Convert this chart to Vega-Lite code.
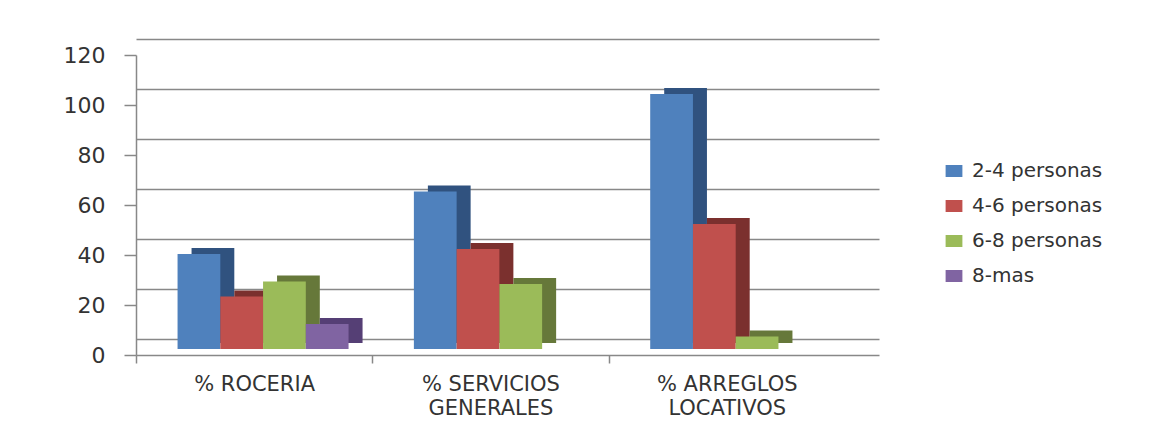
{
  "$schema": "https://vega.github.io/schema/vega-lite/v6.json",
  "width": 743,
  "height": 300,
  "padding": {"left": 47, "top": 28, "right": 5, "bottom": 5},
  "background": "white",
  "config": {"view": {"stroke": null}},
  "data": {"values": [
    {"categoria": "% ROCERIA", "grupo": "2-4 personas", "valor": 38},
    {"categoria": "% ROCERIA", "grupo": "4-6 personas", "valor": 21},
    {"categoria": "% ROCERIA", "grupo": "6-8 personas", "valor": 27},
    {"categoria": "% ROCERIA", "grupo": "8-mas", "valor": 10},
    {"categoria": "% SERVICIOS|GENERALES", "grupo": "2-4 personas", "valor": 63},
    {"categoria": "% SERVICIOS|GENERALES", "grupo": "4-6 personas", "valor": 40},
    {"categoria": "% SERVICIOS|GENERALES", "grupo": "6-8 personas", "valor": 26},
    {"categoria": "% SERVICIOS|GENERALES", "grupo": "8-mas", "valor": 0},
    {"categoria": "%  ARREGLOS|LOCATIVOS", "grupo": "2-4 personas", "valor": 102},
    {"categoria": "%  ARREGLOS|LOCATIVOS", "grupo": "4-6 personas", "valor": 50},
    {"categoria": "%  ARREGLOS|LOCATIVOS", "grupo": "6-8 personas", "valor": 5},
    {"categoria": "%  ARREGLOS|LOCATIVOS", "grupo": "8-mas", "valor": 0}
  ]},
  "encoding": {
    "x": {
      "field": "categoria", "type": "nominal", "sort": null,
      "scale": {"paddingInner": 0.276, "paddingOuter": 0.21, "align": 0.328},
      "axis": {
        "title": null, "orient": "bottom", "offset": 16, "labelAngle": 0,
        "labelExpr": "split(datum.label, '|')",
        "labelFont": "DejaVu Sans", "labelFontSize": 21, "labelColor": "#333333",
        "labelLineHeight": 24, "labelPadding": 10,
        "bandPosition": 0, "tickOffset": -32.6, "labelOffset": 32.6,
        "domainColor": "#888888", "domainWidth": 1.5,
        "tickColor": "#888888", "tickWidth": 1.5, "tickSize": 8
      }
    }
  },
  "layer": [
    {
      "mark": {"type": "bar", "yOffset": 4, "y2Offset": 4},
      "encoding": {
        "xOffset": {"field": "grupo", "type": "nominal",
                    "sort": ["2-4 personas", "4-6 personas", "6-8 personas", "8-mas"],
                    "scale": {"range": [23, 194]}},
        "y": {
          "field": "valor", "type": "quantitative",
          "scale": {"domain": [0, 120], "nice": false},
          "axis": {
            "orient": "left", "title": null, "grid": true, "labels": false, "ticks": false, "domain": false,
            "values": [0, 20, 40, 60, 80, 100, 120],
            "gridColor": "#888888", "gridWidth": 1.5
          }
        },
        "color": {
          "field": "grupo", "type": "nominal", "legend": null,
          "scale": {"domain": ["2-4 personas", "4-6 personas", "6-8 personas", "8-mas"],
                    "range": ["#30527f", "#7b302e", "#66783a", "#553f75"]}
        }
      }
    },
    {
      "mark": {"type": "bar", "yOffset": 10, "y2Offset": 10},
      "encoding": {
        "xOffset": {"field": "grupo", "type": "nominal",
                    "sort": ["2-4 personas", "4-6 personas", "6-8 personas", "8-mas"],
                    "scale": {"range": [9, 180]}},
        "y": {
          "field": "valor", "type": "quantitative",
          "scale": {"domain": [0, 120], "nice": false},
          "axis": {
            "orient": "left", "title": null, "grid": false,
            "values": [0, 20, 40, 60, 80, 100, 120],
            "translate": 16.5, "offset": 16,
            "labelFont": "DejaVu Sans", "labelFontSize": 22, "labelColor": "#333333", "labelPadding": 19,
            "domainColor": "#888888", "domainWidth": 1.5,
            "tickColor": "#888888", "tickWidth": 1.5, "tickSize": 12
          }
        },
        "color": {
          "field": "grupo", "type": "nominal",
          "scale": {"domain": ["2-4 personas", "4-6 personas", "6-8 personas", "8-mas"],
                    "range": ["#4f81bd", "#c0504d", "#9bbb59", "#8064a2"]},
          "legend": {
            "title": null, "orient": "none", "legendX": 808, "legendY": 122,
            "padding": 0,
            "labelFont": "DejaVu Sans", "labelFontSize": 20, "labelColor": "#333333",
            "labelOffset": 8, "rowPadding": 15,
            "symbolType": "M-1.4,-1L1.4,-1L1.4,1L-1.4,1Z", "symbolSize": 144, "symbolStrokeWidth": 0
          }
        }
      }
    }
  ],
  "resolve": {"scale": {"color": "independent", "xOffset": "independent"}, "axis": {"y": "independent"}}
}
